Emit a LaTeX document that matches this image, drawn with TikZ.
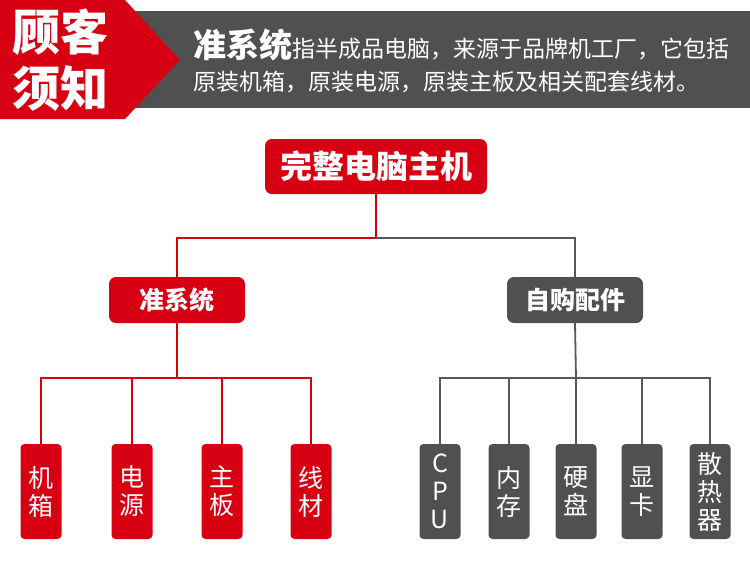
\documentclass[tikz,border=0pt]{standalone}
\usepackage{fontspec}
\setmainfont{Noto Sans CJK SC}
\definecolor{brandred}{RGB}{215,0,18}
\definecolor{darkgray}{RGB}{80,80,80}
\definecolor{linegray}{RGB}{88,88,88}

\begin{document}
\begin{tikzpicture}[x=1pt, y=-1pt,
    redbox/.style={fill=brandred, text=white, rounded corners=7pt, inner sep=0pt},
    graybox/.style={fill=darkgray, text=white, rounded corners=7pt, inner sep=0pt},
    leafbox/.style={minimum width=41pt, minimum height=95pt, rounded corners=4pt,
        align=center, font=\fontsize{25}{28}\selectfont},
    midbox/.style={minimum width=136pt, minimum height=46pt, font=\fontsize{25}{25}\selectfont\bfseries},
    redline/.style={draw=brandred, line width=1.8pt},
    grayline/.style={draw=linegray, line width=1.8pt}]
        % Canvas
        \fill[white] (0,0) rectangle (750,560);

        % Header band
        \fill[darkgray] (120,11) rectangle (750,108);
        \fill[brandred] (0,0) -- (125,0) -- (180,60) -- (125,119) -- (0,119) -- cycle;
        \node[anchor=base west, inner sep=0pt, text=white, font=\fontsize{48}{48}\selectfont\bfseries] (notice1) at (12,50) {顾客};
        \node[anchor=base west, inner sep=0pt, text=white, font=\fontsize{48}{48}\selectfont\bfseries] (notice2) at (12,106) {须知};
        \node[anchor=base west, inner sep=0pt, text=white, font=\fontsize{23}{23}\selectfont] (line1) at (193,57)
            {{\fontsize{33}{33}\selectfont\bfseries 准系统}指半成品电脑，来源于品牌机工厂，它包括};
        \node[anchor=base west, inner sep=0pt, text=white, font=\fontsize{23}{23}\selectfont] (line2) at (193,90)
            {原装机箱，原装电源，原装主板及相关配套线材。};

        % Top node
        \node[redbox, minimum width=222pt, minimum height=55pt, font=\fontsize{32}{32}\selectfont\bfseries] (whole) at (376,166.5) {完整电脑主机};

        % Second level
        \node[redbox, midbox] (kit) at (177,300) {准系统};
        \node[graybox, midbox] (diy) at (575,300) {自购配件};
        \coordinate (split) at (376,238);
        \draw[redline] (whole.south) -- (split);
        \draw[redline] (split) -| (kit.north);
        \draw[grayline] (split) -| (diy.north);

        % Kit parts
        \coordinate (kitbus) at (177,378);
        \draw[redline] (kit.south) -- (kitbus);
        \foreach \x/\t/\n in {41/{机\\箱}/case, 132/{电\\源}/power, 222/{主\\板}/board, 311/{线\\材}/cable} {
            \node[redbox, leafbox] (\n) at (\x,491.5) {\t};
            \draw[redline] (kitbus) -| (\n.north);
        }

        % Own parts
        \coordinate (diybus) at (576,378);
        \draw[grayline] (diy.south) -- (diybus);
        \foreach \x/\t/\n in {440/{C\\P\\U}/cpu, 509/{内\\存}/ram, 576/{硬\\盘}/disk, 642/{显\\卡}/gpu, 710/{散\\热\\器}/cooler} {
            \node[graybox, leafbox] (\n) at (\x,491.5) {\t};
            \draw[grayline] (diybus) -| (\n.north);
        }
\end{tikzpicture}
\end{document}
